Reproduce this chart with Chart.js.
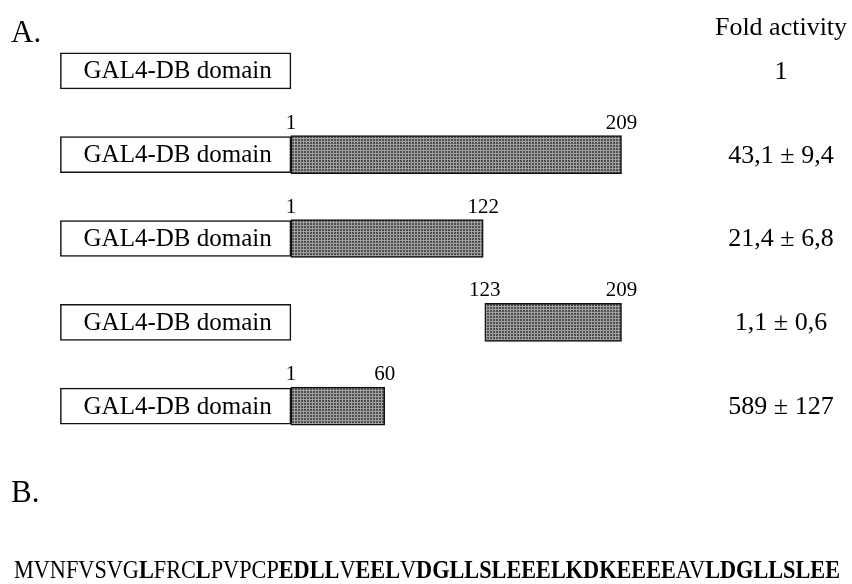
<!DOCTYPE html>
<html>
<head>
<meta charset="utf-8">
<script src="https://cdn.jsdelivr.net/npm/chart.js@4"></script>
<style>
  html, body { margin: 0; padding: 0; background: #fff; }
  #wrap { width: 852px; height: 584px; }
</style>
</head>
<body>
<div id="wrap"><canvas id="chart" width="852" height="584"></canvas></div>
<script>
// constructs, top to bottom
const constructs = ['GAL4-DB', 'GAL4-DB 1-209', 'GAL4-DB 1-122', 'GAL4-DB 123-209', 'GAL4-DB 1-60'];
// GAL4 DNA-binding domain box, drawn ahead of residue 1
const gal4Span = [-144, 1];
const fragStart = [null, 1, 1, 123, 1];
const fragEnd = [null, 209, 122, 209, 60];
const foldActivity = ['1', '43,1 \u00b1 9,4', '21,4 \u00b1 6,8', '1,1 \u00b1 0,6', '589 \u00b1 127'];
// sequence of the 1-60 fragment, bold = acidic / leucine-rich stretches
const seqParts = ['MVNFVSVG', 'L', 'FRC', 'L', 'PVPCP', 'EDLL', 'V', 'EEL', 'V', 'DGLLSLEEELKDKEEEE', 'AV', 'LDGLLSLEE'];
const seqBold = [false, true, false, true, false, true, false, true, false, true, false, true];

const FONT = '"Liberation Serif", "Times New Roman", serif';

// grainy grey fill like the printed bars
function makePattern() {
    const p = document.createElement('canvas');
    p.width = 3; p.height = 3;
    const g = p.getContext('2d');
    g.fillStyle = '#505050';
    g.fillRect(0, 0, 3, 3);
    g.fillStyle = '#a0a0a0';
    g.fillRect(0, 0, 3, 1);
    g.fillRect(0, 0, 1, 3);
    return g.createPattern(p, 'repeat');
}

const labelsPlugin = {
    id: 'labels',
    afterDatasetsDraw(chart) {
        const ctx = chart.ctx;
        const boxMeta = chart.getDatasetMeta(0);
        const fragMeta = chart.getDatasetMeta(1);
        ctx.save();
        ctx.fillStyle = '#000';

        // panel letters and column header
        ctx.font = '31px ' + FONT;
        ctx.textAlign = 'left';
        ctx.textBaseline = 'alphabetic';
        ctx.fillText('A.', 11, 42);
        ctx.fillText('B.', 11, 502);
        ctx.font = '26px ' + FONT;
        ctx.textAlign = 'center';
        ctx.fillText('Fold activity', 781, 35);

        constructs.forEach((c, i) => {
            const box = boxMeta.data[i];
            ctx.font = '25px ' + FONT;
            ctx.textAlign = 'center';
            ctx.textBaseline = 'middle';
            ctx.fillText('GAL4-DB domain', (box.x + box.base) / 2 + 2, box.y + 1);
            ctx.font = '26px ' + FONT;
            ctx.fillText(foldActivity[i], 781, box.y + 1);

            const bar = fragMeta.data[i];
            if (fragStart[i] !== null && bar) {
                ctx.font = '21px ' + FONT;
                ctx.textBaseline = 'alphabetic';
                const top = bar.y - bar.height / 2 - 7;
                ctx.fillText(String(fragStart[i]), bar.base, top);
                ctx.fillText(String(fragEnd[i]), bar.x, top);
            }
        });

        // sequence line, squeezed to the printed width
        const left = 14, right = 840;
        let total = 0;
        const widths = seqParts.map((s, k) => {
            ctx.font = (seqBold[k] ? 'bold ' : '') + '26px ' + FONT;
            const w = ctx.measureText(s).width;
            total += w;
            return w;
        });
        const sx = (right - left) / total;
        ctx.translate(left, 578);
        ctx.scale(sx, 1);
        ctx.textAlign = 'left';
        ctx.textBaseline = 'alphabetic';
        let x = 0;
        seqParts.forEach((s, k) => {
            ctx.font = (seqBold[k] ? 'bold ' : '') + '26px ' + FONT;
            ctx.fillText(s, x, 0);
            x += widths[k];
        });
        ctx.restore();
    }
};

const ctx = document.getElementById('chart').getContext('2d');
new Chart(ctx, {
    type: 'bar',
    data: {
        labels: constructs,
        datasets: [{
            label: 'GAL4-DB domain',
            data: constructs.map(() => gal4Span),
            backgroundColor: '#ffffff',
            borderColor: '#111',
            borderWidth: 1.5,
            borderSkipped: false,
            barThickness: 36,
            grouped: false
        }, {
            label: 'fragment',
            data: fragStart.map((s, i) => s === null ? null : [s, fragEnd[i]]),
            backgroundColor: makePattern(),
            borderColor: '#111',
            borderWidth: 1.5,
            borderSkipped: false,
            barThickness: 38,
            grouped: false
        }]
    },
    options: {
        indexAxis: 'y',
        responsive: false,
        animation: false,
        layout: { padding: { top: 29, bottom: 136, left: 0, right: 0 } },
        plugins: {
            legend: { display: false },
            tooltip: { enabled: false }
        },
        scales: {
            x: { type: 'linear', min: -182, max: 354, display: false },
            y: { type: 'category', display: false, offset: true }
        }
    },
    plugins: [labelsPlugin]
});
</script>
</body>
</html>
